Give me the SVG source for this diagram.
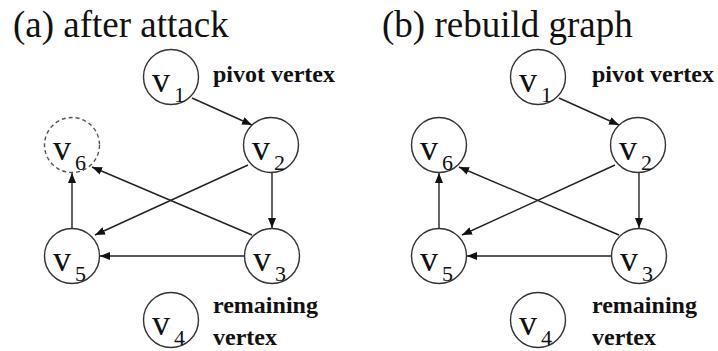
<svg xmlns="http://www.w3.org/2000/svg" width="718" height="351" viewBox="0 0 718 351">
<style>
  .node{fill:#fff;stroke:#333;stroke-width:1.4}
  .dashed{fill:#fff;stroke:#555;stroke-width:1.4;stroke-dasharray:4 3}
  .edge{stroke:#222;stroke-width:1.4;fill:none;marker-end:url(#arr)}
</style>
<defs>
  <marker id="arr" viewBox="0 0 10 8" refX="10" refY="4" markerWidth="10" markerHeight="8" markerUnits="userSpaceOnUse" orient="auto">
    <path d="M0,0 L10,4 L0,8 z" fill="#111"/>
  </marker>
</defs>
<rect width="718" height="351" fill="#fff"/>

<text x="13" y="37" font-size="37" font-family="Liberation Serif" fill="#111">(a) after attack</text>
<text x="382" y="37" font-size="37" font-family="Liberation Serif" fill="#111">(b) rebuild graph</text>

<g id="connectors">
  <line class="edge" x1="192" y1="98" x2="252" y2="125"/>
  <line class="edge" x1="272" y1="172.5" x2="272" y2="228"/>
  <line class="edge" x1="244" y1="256" x2="100" y2="256"/>
  <line class="edge" x1="72" y1="228.5" x2="72" y2="173"/>
  <line class="edge" x1="248" y1="165" x2="95" y2="235"/>
  <line class="edge" x1="252" y1="235" x2="92" y2="167"/>
  <line class="edge" x1="559" y1="98" x2="619" y2="125"/>
  <line class="edge" x1="639" y1="172.5" x2="639" y2="228"/>
  <line class="edge" x1="611" y1="256" x2="467" y2="256"/>
  <line class="edge" x1="439" y1="228.5" x2="439" y2="173"/>
  <line class="edge" x1="615" y1="165" x2="462" y2="235"/>
  <line class="edge" x1="619" y1="235" x2="459" y2="167"/>
</g>

<g id="a-v1"><circle class="node" cx="171" cy="77" r="27.5"/><text x="152" y="92" font-size="36" font-family="Liberation Serif" fill="#111">v<tspan font-size="22" dx="4" dy="10">1</tspan></text></g>
<g id="a-v2"><circle class="node" cx="271" cy="145" r="27.5"/><text x="252" y="160" font-size="36" font-family="Liberation Serif" fill="#111">v<tspan font-size="22" dx="4" dy="10">2</tspan></text></g>
<g id="a-v3"><circle class="node" cx="272" cy="256" r="27.5"/><text x="253" y="271" font-size="36" font-family="Liberation Serif" fill="#111">v<tspan font-size="22" dx="4" dy="10">3</tspan></text></g>
<g id="a-v4"><circle class="node" cx="171" cy="320" r="27.5"/><text x="152" y="335" font-size="36" font-family="Liberation Serif" fill="#111">v<tspan font-size="22" dx="4" dy="10">4</tspan></text></g>
<g id="a-v5"><circle class="node" cx="72" cy="256" r="27.5"/><text x="53" y="271" font-size="36" font-family="Liberation Serif" fill="#111">v<tspan font-size="22" dx="4" dy="10">5</tspan></text></g>
<g id="a-v6"><circle class="dashed" cx="72" cy="145" r="27.5"/><text x="53" y="160" font-size="36" font-family="Liberation Serif" fill="#111">v<tspan font-size="22" dx="4" dy="10">6</tspan></text></g>
<g id="a-pivot-label"><text x="213" y="82" font-size="24" font-weight="bold" font-family="Liberation Serif" fill="#111">pivot vertex</text></g>
<g id="a-remaining-label"><text x="213" y="313" font-size="24" font-weight="bold" font-family="Liberation Serif" fill="#111">remaining</text><text x="213" y="345" font-size="24" font-weight="bold" font-family="Liberation Serif" fill="#111">vertex</text></g>

<g id="b-v1"><circle class="node" cx="538" cy="77" r="27.5"/><text x="519" y="92" font-size="36" font-family="Liberation Serif" fill="#111">v<tspan font-size="22" dx="4" dy="10">1</tspan></text></g>
<g id="b-v2"><circle class="node" cx="638" cy="145" r="27.5"/><text x="619" y="160" font-size="36" font-family="Liberation Serif" fill="#111">v<tspan font-size="22" dx="4" dy="10">2</tspan></text></g>
<g id="b-v3"><circle class="node" cx="639" cy="256" r="27.5"/><text x="620" y="271" font-size="36" font-family="Liberation Serif" fill="#111">v<tspan font-size="22" dx="4" dy="10">3</tspan></text></g>
<g id="b-v4"><circle class="node" cx="538" cy="320" r="27.5"/><text x="519" y="335" font-size="36" font-family="Liberation Serif" fill="#111">v<tspan font-size="22" dx="4" dy="10">4</tspan></text></g>
<g id="b-v5"><circle class="node" cx="439" cy="256" r="27.5"/><text x="420" y="271" font-size="36" font-family="Liberation Serif" fill="#111">v<tspan font-size="22" dx="4" dy="10">5</tspan></text></g>
<g id="b-v6"><circle class="node" cx="439" cy="145" r="27.5"/><text x="420" y="160" font-size="36" font-family="Liberation Serif" fill="#111">v<tspan font-size="22" dx="4" dy="10">6</tspan></text></g>
<g id="b-pivot-label"><text x="592" y="82" font-size="24" font-weight="bold" font-family="Liberation Serif" fill="#111">pivot vertex</text></g>
<g id="b-remaining-label"><text x="592" y="313" font-size="24" font-weight="bold" font-family="Liberation Serif" fill="#111">remaining</text><text x="592" y="345" font-size="24" font-weight="bold" font-family="Liberation Serif" fill="#111">vertex</text></g>
</svg>
